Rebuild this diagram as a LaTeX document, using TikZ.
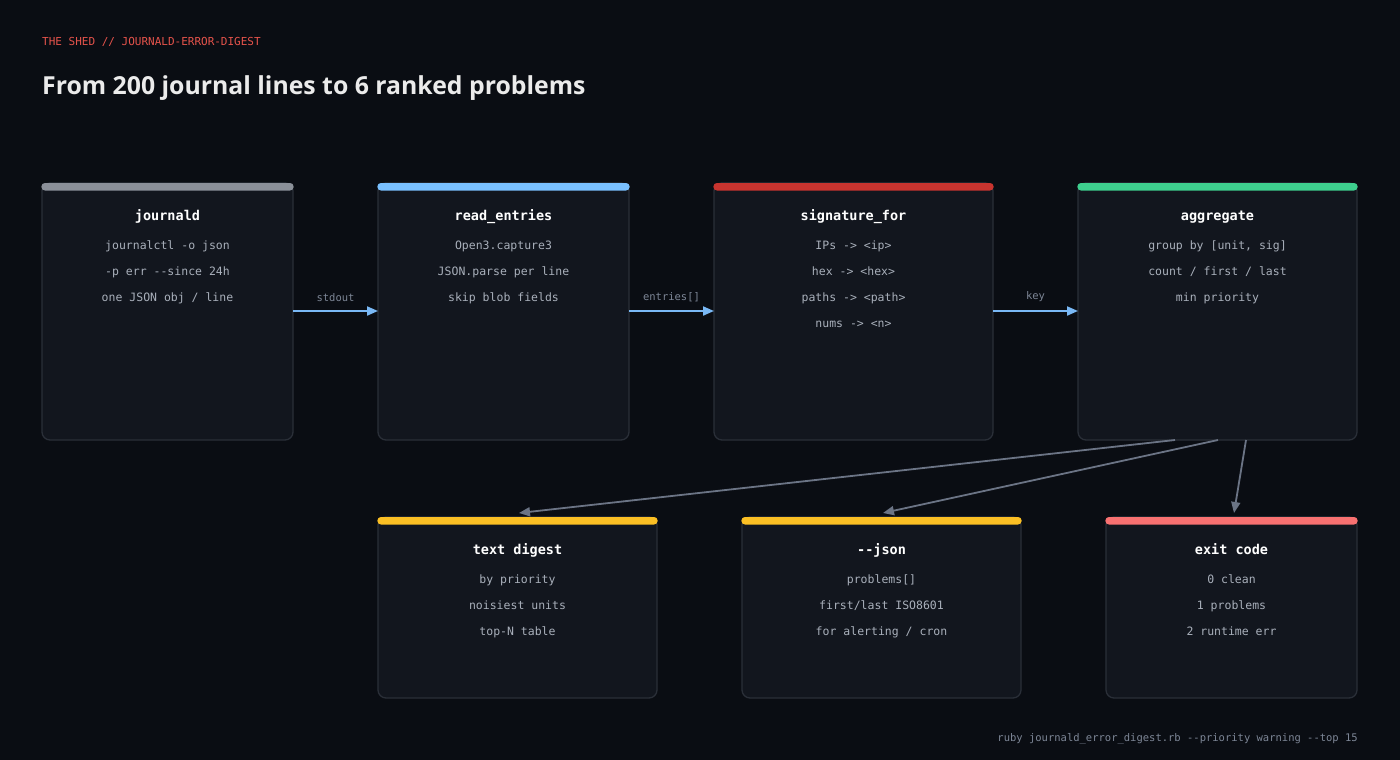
\documentclass[tikz,border=0pt]{standalone}
\usepackage{fontspec}
\setmainfont{Open Sans}
\newfontfamily\mono{DejaVu Sans Mono}
\usetikzlibrary{arrows.meta}
\definecolor{bg}{HTML}{0A0D13}
\definecolor{boxf}{HTML}{12161E}
\definecolor{boxd}{HTML}{2A2F38}
\definecolor{txt}{HTML}{A9B0BB}
\definecolor{lbl}{HTML}{7D8696}
\definecolor{blu}{HTML}{79B8F5}
\definecolor{gry}{HTML}{6B7485}
\definecolor{cgray}{HTML}{8B9099}
\definecolor{cblue}{HTML}{79C0FF}
\definecolor{cred}{HTML}{C8342F}
\definecolor{cgreen}{HTML}{3ECF8E}
\definecolor{cyel}{HTML}{FBBF24}
\definecolor{cpink}{HTML}{F87171}
\definecolor{hdr}{HTML}{E5534B}
\begin{document}
\begin{tikzpicture}[x=1pt,y=-1pt,
  box/.style={draw=boxd,fill=boxf,rounded corners=8pt,line width=1.3pt},
  ttl/.style={text=white,font=\mono\bfseries\fontsize{13.5}{15}\selectfont},
  ln/.style={text=txt,font=\mono\fontsize{11.5}{13}\selectfont},
  alab/.style={text=lbl,font=\mono\fontsize{10.5}{12}\selectfont},
  flow/.style={draw=blu,line width=2pt,-{Triangle[length=11pt,width=9pt]}},
  fan/.style={draw=gry,line width=1.8pt,-{Triangle[length=11pt,width=9pt]}}]
\fill[bg] (0,0) rectangle (1400,760);
\useasboundingbox (0,0) rectangle (1400,760);
\node[anchor=base west,inner sep=0pt,text=hdr,font=\mono\fontsize{11}{13}\selectfont] (hd) at (42,46) {THE SHED // JOURNALD-ERROR-DIGEST};
\node[anchor=base west,text=white!92!black,font=\bfseries\fontsize{24.8}{28}\selectfont,inner sep=0pt] (tt) at (42,95) {From 200 journal lines to 6 ranked problems};
\foreach \n/\a/\b/\c/\d/\col in {j/42/293/183/440/cgray, r/378/629/183/440/cblue, s/714/993/183/440/cred, g/1078/1357/183/440/cgreen, t/378/657/517/698/cyel, k/742/1021/517/698/cyel, e/1106/1357/517/698/cpink}{
  \draw[box] (\a,\c) rectangle (\b,\d);
  \fill[\col,rounded corners=3.5pt] (\a-0.6,\c) rectangle (\b+0.6,\c+7.5);
  \coordinate (\n) at ({(\a+\b)/2},\c);
}
\newcommand{\boxtext}[5]{%
 \node[ttl,anchor=base] (#1t) at ([yshift=-37]#1) {#2};
 \node[ln,anchor=base] (#1a) at ([yshift=-66]#1) {#3};
 \node[ln,anchor=base] (#1b) at ([yshift=-92]#1) {#4};
 \node[ln,anchor=base] (#1c) at ([yshift=-118]#1) {#5};}
\boxtext{j}{journald}{journalctl -o json}{-p err --since 24h}{one JSON obj / line}
\boxtext{r}{read\_entries}{Open3.capture3}{JSON.parse per line}{skip blob fields}
\boxtext{s}{signature\_for}{IPs -> <ip>}{hex -> <hex>}{paths -> <path>}
\node[ln,anchor=base] (sd) at ([yshift=-144]s) {nums -> <n>};
\boxtext{g}{aggregate}{group by [unit, sig]}{count / first / last}{min priority}
\boxtext{t}{text digest}{by priority}{noisiest units}{top-N table}
\boxtext{k}{-{}-json}{problems[]}{first/last ISO8601}{for alerting / cron}
\boxtext{e}{exit code}{0 clean}{1 problems}{2 runtime err}
\coordinate (a1) at (293,311); \coordinate (b1) at (378,311);
\coordinate (a2) at (629,311); \coordinate (b2) at (714,311);
\coordinate (a3) at (993,311); \coordinate (b3) at (1078,311);
\draw[flow] (a1) -- (b1) node[alab,midway,above=5pt] {stdout};
\draw[flow] (a2) -- (b2) node[alab,midway,above=5pt] {entries[]};
\draw[flow] (a3) -- (b3) node[alab,midway,above=5pt] {key};
\coordinate (f1) at (1175,440); \coordinate (g1) at (519,513);
\coordinate (f2) at (1218,440); \coordinate (g2) at (883,513);
\coordinate (f3) at (1246,440); \coordinate (g3) at (1234,513);
\draw[fan] (f1) -- (g1);
\draw[fan] (f2) -- (g2);
\draw[fan] (f3) -- (g3);
\node[anchor=base east,inner sep=0pt,text=lbl,font=\mono\fontsize{10.5}{12}\selectfont] (ft) at (1358,741) {ruby journald\_error\_digest.rb -{}-priority warning -{}-top 15};
\end{tikzpicture}
\end{document}
